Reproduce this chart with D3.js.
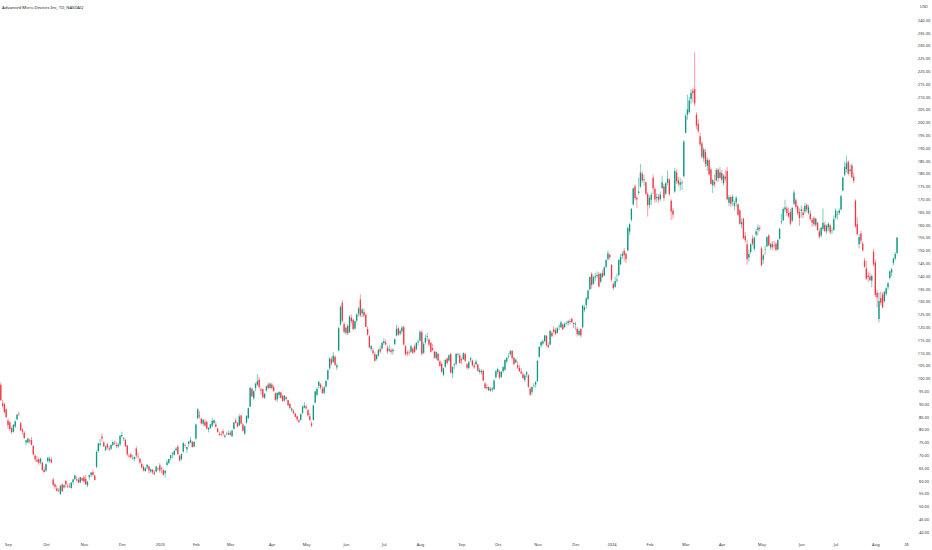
<!DOCTYPE html>
<html>
<head>
<meta charset="utf-8">
<script src="https://cdn.jsdelivr.net/npm/d3@7"></script>
<style>
  html, body { margin: 0; padding: 0; background: #fff; overflow: hidden; }
  text { font-family: "Noto Sans", "DejaVu Sans", sans-serif; }
</style>
</head>
<body>
<script>
// daily candles per month, each row [open, high, low, close]
const aug22 = [[97.5,98.4,91.2,91.5],[90.2,91.6,88.6,89.3],[90.0,90.6,86.2,86.9],[87.9,88.3,84.6,84.9]];
const sep22 = [[83.5,84.3,80.3,81.8],[82.8,83.4,79.6,80.2],[80.5,81.2,78.2,79.0],[79.2,82.1,78.9,81.9],[81.2,83.6,80.5,83.2],[84.0,86.1,83.7,85.8],[86.2,87.0,85.3,86.0],[82.5,83.0,79.5,79.8],[79.9,80.6,78.1,79.2],[78.8,79.4,76.3,76.7],[75.0,76.0,73.8,75.8],[75.0,76.8,74.6,76.5],[75.8,76.4,74.5,75.4],[75.9,77.2,73.8,74.1],[73.6,74.0,69.8,70.3],[69.8,70.4,67.6,68.4],[68.2,69.7,67.3,67.5],[68.4,69.1,66.2,67.0],[67.2,69.0,66.5,68.6],[67.1,67.4,63.8,64.3],[64.3,65.5,63.2,63.4]];
const oct22 = [[64.0,66.8,63.5,66.5],[67.6,69.3,67.2,69.0],[67.8,69.5,67.0,68.6],[68.3,69.2,66.9,67.2],[60.5,61.3,57.8,58.4],[58.6,59.0,56.7,57.6],[57.0,58.2,55.8,56.1],[56.4,57.2,55.6,56.3],[54.8,58.6,54.6,58.0],[58.6,58.9,55.7,55.9],[57.4,58.6,56.9,58.3],[60.0,60.2,57.4,58.6],[58.0,58.9,57.1,57.9],[57.8,59.1,57.2,57.6],[57.2,59.5,56.9,59.3],[59.4,60.8,58.5,60.5],[60.6,62.4,60.4,62.1],[60.5,61.8,59.9,60.2],[60.4,61.2,59.0,59.3],[59.4,61.6,59.0,61.4],[61.0,61.2,59.8,60.1]];
const nov22 = [[61.4,62.0,59.2,59.7],[60.7,62.3,58.4,58.6],[58.2,60.0,57.6,59.6],[61.4,62.5,60.2,62.2],[62.3,63.5,61.5,63.2],[63.4,64.4,61.8,62.3],[62.0,62.4,60.1,60.3],[65.5,71.8,65.0,71.3],[71.6,75.0,71.0,74.5],[74.0,76.5,73.4,74.6],[77.3,78.5,75.4,76.6],[75.0,75.5,73.2,73.4],[72.0,73.8,71.5,73.4],[74.3,74.9,72.3,73.0],[72.6,73.6,71.6,72.2],[72.5,74.2,72.0,74.0],[74.0,75.6,73.6,75.1],[74.8,75.7,74.0,74.6],[74.0,75.3,72.8,73.5],[73.4,74.8,72.6,74.2],[74.2,77.8,73.5,77.6]];
const dec22 = [[77.4,79.2,76.9,77.9],[76.4,77.1,75.5,76.7],[76.0,76.5,73.2,73.5],[73.8,74.0,69.6,70.3],[69.8,70.5,68.9,69.5],[70.3,70.9,68.7,69.2],[68.9,70.2,68.4,68.9],[68.5,69.5,67.7,69.3],[72.6,73.4,68.9,69.8],[69.7,70.9,68.4,69.6],[68.6,68.9,66.6,67.1],[66.6,67.2,64.8,65.2],[65.4,66.0,63.7,64.0],[63.8,65.3,63.5,64.9],[65.2,66.4,64.6,66.3],[65.6,65.8,62.8,64.0],[63.6,64.8,63.0,64.5],[64.2,64.6,62.5,63.3],[63.2,64.3,62.2,62.6],[63.6,65.8,63.2,65.6],[64.6,65.1,63.9,64.8]];
const jan23 = [[66.0,66.9,63.2,64.0],[64.9,65.6,63.0,64.7],[64.2,64.4,62.1,62.3],[63.0,64.1,61.2,63.9],[66.2,68.3,65.8,67.2],[67.0,68.7,66.5,68.5],[68.8,70.2,68.0,70.0],[70.6,71.2,68.8,70.9],[70.1,71.9,69.8,71.7],[72.0,73.2,71.4,72.6],[73.3,74.0,70.2,70.4],[69.8,70.2,67.5,68.0],[68.5,70.6,67.9,70.5],[71.4,75.0,71.0,74.8],[74.0,74.6,72.9,73.8],[72.3,73.4,70.9,73.2],[74.4,75.5,73.3,75.3],[75.0,77.2,74.7,76.0],[75.3,75.5,73.0,73.2],[73.4,75.4,73.0,75.2]];
const feb23 = [[76.5,82.4,76.0,82.0],[84.5,88.4,84.0,87.9],[85.5,87.2,84.3,85.2],[84.2,84.6,82.0,82.4],[82.3,84.1,81.3,83.9],[83.0,84.0,81.2,81.5],[83.0,83.6,80.0,80.4],[80.0,81.0,78.9,80.6],[80.6,82.3,80.2,82.0],[81.5,84.6,81.0,83.4],[82.6,83.9,82.0,83.7],[82.0,83.2,80.9,81.1],[80.4,80.8,78.8,79.1],[78.3,79.2,77.6,77.9],[78.2,79.3,77.4,78.1],[79.4,80.3,77.6,78.4],[77.2,78.1,76.6,77.7],[78.4,79.2,77.8,78.2],[78.0,79.6,77.9,78.6]];
const mar23 = [[78.8,79.6,77.6,78.0],[77.4,80.0,77.1,79.6],[80.3,83.0,80.0,82.8],[83.6,84.5,82.4,82.7],[82.5,83.0,80.9,81.2],[81.6,86.0,81.5,85.2],[85.5,85.8,82.0,82.3],[82.0,82.6,79.2,79.6],[78.5,81.6,77.9,81.3],[82.7,85.6,82.3,85.3],[84.5,88.6,84.2,88.3],[89.0,96.8,88.8,96.3],[96.0,96.4,92.6,93.0],[92.3,95.4,91.5,95.0],[96.2,98.3,95.0,97.9],[97.6,101.7,97.1,98.9],[99.5,100.5,96.0,96.6],[95.7,96.4,93.6,95.2],[95.8,96.0,92.2,92.6],[92.4,94.3,92.0,94.0],[95.3,97.2,94.8,96.9],[97.6,98.5,95.8,96.2],[96.3,98.2,95.9,98.0]];
const apr23 = [[97.6,98.3,95.6,96.2],[96.6,97.4,94.7,95.1],[94.2,94.5,91.2,91.6],[91.8,94.6,90.8,94.3],[93.5,95.0,92.4,94.7],[94.5,94.8,92.1,92.4],[93.2,93.6,90.9,91.1],[91.4,93.5,91.0,93.2],[92.6,93.1,91.3,92.0],[91.5,91.7,89.2,89.5],[90.0,90.4,88.0,88.4],[87.5,88.6,86.8,88.2],[87.3,88.0,86.0,86.4],[86.2,86.6,84.8,85.0],[85.2,85.6,83.2,84.0],[83.6,84.2,82.6,83.0],[83.8,86.4,83.5,86.0],[86.5,89.3,86.0,89.0],[88.6,90.8,88.2,89.4]];
const may23 = [[89.0,89.8,87.8,88.3],[87.6,88.0,85.0,85.6],[85.2,86.5,83.4,83.8],[82.4,83.2,80.9,81.6],[83.8,89.8,83.5,89.4],[90.5,95.3,90.3,94.9],[93.6,96.6,92.9,95.9],[97.0,99.2,96.0,98.6],[97.6,98.2,95.6,96.4],[96.0,96.9,93.9,94.3],[94.4,97.0,93.8,96.5],[96.8,99.4,96.4,99.0],[99.6,103.5,99.2,103.2],[104.0,108.2,103.3,107.8],[107.5,108.5,105.1,105.8],[106.5,110.3,106.0,108.9],[108.4,109.0,104.8,105.3],[104.3,105.9,103.2,105.1],[111.0,120.2,110.5,119.6],[121.0,128.5,120.6,127.9],[129.5,130.6,121.8,122.5],[121.2,122.0,117.5,118.2]];
const jun23 = [[117.8,120.3,117.0,119.8],[120.5,121.2,116.9,117.6],[118.0,124.6,117.8,124.2],[123.7,125.0,121.4,122.3],[122.9,123.4,118.7,119.3],[119.5,122.6,119.0,122.3],[122.6,125.5,121.8,124.9],[125.3,128.0,124.2,127.3],[130.8,132.8,123.9,124.6],[125.4,127.6,123.8,126.9],[125.9,127.2,123.9,124.5],[124.8,125.5,120.0,120.1],[119.3,120.3,116.8,117.1],[116.4,117.0,111.8,112.2],[111.5,113.0,110.6,112.6],[110.9,111.9,109.2,109.9],[109.5,110.4,106.6,106.9],[107.6,109.4,106.9,109.2],[109.0,111.7,108.5,111.1],[111.5,112.7,109.8,110.5],[111.6,114.4,111.3,113.9]];
const jul23 = [[113.8,115.7,113.0,114.6],[114.0,115.2,112.8,113.3],[112.0,112.8,109.6,110.5],[110.8,113.2,110.3,111.4],[111.0,112.0,109.4,110.3],[110.6,111.8,109.3,111.2],[113.4,115.6,113.0,115.3],[116.8,121.0,116.4,119.3],[119.6,120.4,116.6,117.1],[117.5,119.3,116.8,118.6],[118.4,120.5,117.2,119.9],[120.0,120.6,112.8,113.2],[112.6,113.0,108.9,109.4],[110.2,111.0,108.6,109.7],[110.3,111.2,108.9,110.2],[110.4,113.0,110.0,112.6],[111.6,112.2,109.5,110.0],[112.5,113.3,109.8,110.4],[111.4,114.2,111.0,113.8],[114.0,115.3,112.9,114.4]];
const aug23 = [[114.8,118.8,114.2,118.2],[118.0,119.0,109.0,109.6],[110.0,114.2,109.5,113.4],[114.0,117.2,113.2,115.8],[116.2,117.8,114.6,116.5],[115.2,115.6,112.4,113.2],[113.8,114.3,110.0,110.4],[111.8,113.4,110.6,111.2],[110.4,110.9,107.6,108.1],[107.9,110.6,107.3,110.3],[109.6,110.0,106.6,107.0],[106.6,107.4,104.6,104.9],[105.6,106.2,102.2,102.6],[101.4,104.2,100.8,103.9],[104.6,107.5,104.0,107.2],[107.8,108.1,105.3,106.0],[107.0,109.4,106.4,109.0],[109.6,109.8,101.8,102.3],[102.0,104.8,100.1,104.4],[105.2,106.0,103.6,105.5],[105.6,109.8,105.0,109.6],[109.2,110.0,108.2,109.4],[109.0,109.8,105.8,106.0]];
const sep23 = [[107.5,108.2,105.6,107.0],[107.5,110.2,107.2,109.8],[109.6,110.0,106.5,106.9],[105.5,106.0,103.4,104.2],[104.0,106.8,103.6,106.3],[107.3,108.3,106.4,107.9],[107.0,107.4,104.6,105.1],[105.0,106.2,103.8,104.3],[105.5,107.4,105.0,106.6],[105.4,105.9,102.6,103.0],[102.5,104.0,101.8,103.2],[102.4,103.6,101.4,102.9],[103.0,103.4,98.9,99.2],[98.0,98.6,96.0,96.2],[96.6,97.8,95.6,96.1],[95.4,96.9,95.0,96.6],[95.9,96.6,94.8,95.2],[95.6,96.6,94.6,96.1],[95.8,99.6,95.4,99.2],[100.4,103.2,100.0,102.8]];
const oct23 = [[102.5,104.2,101.6,103.6],[102.6,103.2,99.8,100.3],[100.6,102.9,100.1,102.6],[102.8,104.8,102.2,104.4],[103.4,107.5,103.0,107.2],[106.6,108.4,105.8,108.0],[108.6,109.8,107.8,108.6],[109.5,111.2,108.8,110.6],[110.8,111.0,107.4,107.9],[108.0,108.4,105.1,105.6],[106.2,107.8,105.9,107.3],[105.2,106.6,103.7,104.2],[104.1,105.2,102.5,102.8],[102.7,104.1,101.6,101.9],[101.6,102.4,99.8,100.1],[99.4,101.8,98.6,101.1],[101.6,102.9,100.4,102.4],[101.2,101.6,96.4,96.7],[96.0,96.8,93.1,93.7],[94.6,97.0,93.5,96.6],[97.2,98.2,96.3,97.4],[97.6,99.0,96.4,98.5]];
const nov23 = [[98.9,107.2,98.6,106.8],[108.5,112.6,108.0,112.3],[112.8,114.6,111.9,114.2],[113.6,115.2,112.9,114.5],[114.6,117.0,114.0,116.8],[116.6,116.9,112.5,112.9],[113.0,114.0,111.8,112.2],[113.2,118.9,113.0,118.6],[117.8,118.4,116.0,116.5],[119.2,120.3,117.6,118.2],[118.8,119.8,116.9,117.4],[117.8,120.0,117.5,119.6],[120.2,121.2,118.9,120.4],[120.0,122.5,119.7,121.9],[121.0,121.6,118.8,119.2],[120.0,121.9,119.6,121.3],[121.5,122.3,120.8,121.6],[121.6,122.8,120.6,122.3],[122.4,123.2,121.0,122.0],[123.2,123.8,121.6,122.0],[121.6,122.0,119.6,121.2]];
const dec23 = [[121.0,122.2,118.8,121.4],[119.4,120.2,116.3,117.4],[117.0,119.4,116.6,118.6],[119.2,119.8,116.0,116.8],[120.0,128.8,119.6,128.4],[126.8,128.6,125.8,127.8],[128.6,131.8,127.2,131.2],[131.0,134.6,130.4,134.3],[134.8,139.9,134.2,139.6],[140.8,141.5,135.0,136.5],[137.0,140.2,136.6,139.5],[139.4,141.2,138.0,139.9],[140.0,141.8,139.0,140.4],[140.8,141.6,135.6,135.9],[137.8,141.3,137.2,140.9],[141.2,142.4,139.2,139.6],[140.2,143.8,140.0,143.4],[143.6,146.6,143.0,146.2],[146.6,150.0,146.0,148.8],[148.2,148.9,146.4,147.4]];
const jan24 = [[144.3,144.6,137.7,138.6],[136.8,137.6,134.5,135.3],[135.8,139.8,135.4,138.0],[138.2,141.0,137.4,138.6],[140.4,146.8,139.8,146.2],[144.6,148.8,144.2,147.4],[147.8,149.6,146.6,148.6],[149.8,151.0,145.6,148.2],[148.6,149.2,145.0,146.6],[150.0,159.2,149.6,158.7],[157.4,160.6,156.0,160.2],[162.0,166.6,161.4,166.2],[168.0,174.6,167.4,174.2],[175.0,175.8,169.6,170.4],[170.6,171.4,166.6,169.9],[172.4,178.4,171.6,173.0],[175.0,183.8,174.4,180.4],[180.0,181.0,176.4,177.3],[177.4,179.6,175.2,177.8],[176.6,177.0,171.6,172.1],[172.0,172.8,163.2,167.7]];
const feb24 = [[167.8,171.4,166.4,170.5],[169.8,172.6,167.8,171.8],[178.4,179.6,172.0,174.2],[174.0,174.6,168.6,169.9],[170.4,172.4,168.8,170.9],[171.0,172.0,168.6,169.8],[170.0,173.0,169.2,171.8],[174.4,179.2,174.0,176.6],[175.0,176.0,169.2,170.5],[172.2,176.8,171.6,176.2],[176.4,181.2,175.4,178.0],[177.6,178.2,171.2,172.0],[169.4,170.0,161.8,165.2],[165.6,166.6,162.4,164.0],[173.0,182.2,172.4,181.0],[180.4,181.6,176.0,177.0],[177.4,178.8,175.0,176.1],[175.6,178.4,173.4,176.6],[176.2,177.6,173.6,176.5],[179.0,193.2,178.4,192.5]];
const mar24 = [[196.0,203.4,195.6,202.6],[203.0,210.8,201.0,205.1],[204.0,210.0,203.4,208.6],[209.2,213.0,207.2,211.6],[212.4,213.6,207.8,211.4],[213.0,227.3,206.4,207.4],[203.0,204.0,197.4,198.8],[199.4,201.2,195.8,196.6],[194.6,196.0,190.6,191.4],[191.8,192.6,185.8,186.6],[186.0,190.2,184.6,189.4],[188.4,189.6,182.6,183.8],[183.0,186.4,181.0,185.4],[185.2,185.8,179.2,179.8],[181.6,182.4,175.6,176.0],[175.4,178.0,172.4,177.4],[176.6,179.6,174.8,175.8],[177.4,182.2,176.8,181.4],[181.6,182.0,176.6,178.2],[178.4,182.6,177.8,180.5]];
const apr24 = [[180.2,181.4,176.4,177.6],[176.2,179.8,175.4,179.2],[178.8,181.2,177.0,178.0],[181.0,182.6,169.6,170.0],[168.6,171.6,167.4,170.8],[170.8,171.2,167.0,168.2],[169.0,171.8,167.4,171.0],[167.4,169.4,165.6,168.6],[168.8,171.2,166.8,170.6],[168.0,168.6,163.4,163.9],[165.6,166.2,160.0,160.4],[160.2,162.6,158.6,161.0],[162.4,162.8,154.4,154.8],[155.6,157.2,153.0,154.0],[152.4,154.2,144.4,146.6],[147.2,150.4,145.6,148.6],[149.4,152.8,148.6,152.4],[154.6,156.0,151.8,152.6],[150.6,155.4,149.6,155.0],[156.2,158.4,155.4,157.4],[158.0,160.2,155.8,159.0],[158.8,159.8,157.4,158.4]];
const may24 = [[150.8,151.6,143.6,144.3],[146.4,148.6,144.8,148.0],[150.2,151.8,148.4,150.4],[151.6,155.6,151.2,155.2],[155.8,156.4,151.6,152.0],[151.2,153.0,150.2,152.4],[152.6,153.6,150.0,151.2],[152.0,153.8,150.8,151.8],[152.6,153.2,149.6,150.2],[150.4,154.4,150.0,154.0],[154.6,158.8,154.2,158.4],[161.0,164.2,160.2,161.4],[161.8,166.8,161.4,166.2],[166.0,169.8,165.0,166.8],[166.4,167.4,163.4,164.6],[164.6,166.8,162.8,163.2],[165.0,166.2,159.8,160.4],[161.6,167.0,161.0,166.6],[168.2,173.6,167.6,172.6],[169.6,170.4,166.0,167.0],[167.2,167.8,163.6,164.6],[165.0,166.4,159.6,162.6]];
const jun24 = [[165.4,167.6,162.8,166.0],[164.8,166.8,162.6,163.8],[165.2,168.6,164.4,167.4],[167.8,168.2,165.0,166.0],[164.6,167.8,164.0,166.8],[164.4,165.6,161.6,162.2],[162.0,162.6,159.2,160.8],[162.6,163.4,159.4,160.2],[160.0,162.8,159.2,162.4],[160.8,161.2,157.6,158.0],[157.4,158.6,154.6,155.4],[155.8,159.2,155.0,158.8],[158.4,166.4,157.6,160.8],[160.0,161.2,157.0,157.6],[157.4,160.2,156.4,159.6],[159.0,161.0,157.6,160.4],[159.8,160.4,156.2,157.0],[157.6,159.0,156.4,157.8],[158.0,163.6,157.6,162.2]];
const jul24 = [[162.8,166.4,162.2,165.6],[164.0,165.4,162.0,164.2],[164.6,166.4,163.8,165.6],[166.0,171.8,165.6,171.2],[173.4,178.8,173.0,178.4],[179.6,184.6,179.0,182.6],[181.8,187.0,180.6,184.0],[184.6,185.2,179.2,180.0],[181.0,183.6,179.6,181.6],[183.2,184.0,178.0,178.6],[178.8,180.4,176.2,177.2],[169.4,170.0,158.8,159.4],[160.2,163.0,155.8,156.4],[152.4,156.4,150.8,155.2],[156.6,157.8,152.4,153.8],[152.6,153.4,149.6,150.0],[146.0,147.0,143.2,143.6],[143.0,146.0,138.4,139.0],[140.2,141.8,137.6,139.6],[139.8,141.2,137.8,138.4],[138.2,140.6,135.6,140.0],[149.4,150.6,143.8,144.5]];
const aug24 = [[145.2,146.4,131.8,132.6],[133.4,134.6,127.8,131.6],[123.2,133.6,121.8,130.2],[131.4,134.0,128.6,129.6],[132.8,133.6,127.4,127.8],[130.2,134.2,129.6,133.8],[133.0,135.6,132.2,135.2],[135.6,137.6,134.6,137.2],[139.2,142.2,138.6,141.8],[141.4,143.2,139.8,142.6],[145.0,147.2,144.2,146.8],[146.8,149.4,146.0,148.6],[149.0,155.2,148.6,155.0]];

// exchange calendar
const firstDay = "2022-08-26";
const axisEnd = "2024-08-26";
const holidays = ["2022-09-05","2022-11-24","2022-12-26","2023-01-02","2023-01-16","2023-02-20","2023-04-07","2023-05-29","2023-06-19","2023-07-04","2023-09-04","2023-11-23","2023-12-25","2024-01-01","2024-01-15","2024-02-19","2024-03-29","2024-05-27","2024-06-19","2024-07-04"];
const monthNames = ["Jan","Feb","Mar","Apr","May","Jun","Jul","Aug","Sep","Oct","Nov","Dec"];
const priceTicks = d3.range(40, 241, 5);

const title = "Advanced Micro Devices Inc, 1D, NASDAQ";
const currency = "USD";
const upColor = "#089981", downColor = "#f23645";

const width = 932, height = 550;

const ohlc = [aug22, sep22, oct22, nov22, dec22, jan23, feb23, mar23, apr23, may23, jun23,
  jul23, aug23, sep23, oct23, nov23, dec23, jan24, feb24, mar24, apr24, may24, jun24, jul24, aug24].flat();

const parse = d3.utcParse("%Y-%m-%d"), fmt = d3.utcFormat("%Y-%m-%d");
const hol = new Set(holidays);
const days = d3.utcDays(parse(firstDay), d3.utcDay.offset(parse(axisEnd), 1))
  .filter(d => d.getUTCDay() % 6 !== 0 && !hol.has(fmt(d)));

const candles = ohlc.map((v, i) => ({ i: i, date: days[i], o: v[0], h: v[1], l: v[2], c: v[3] }));
if (candles.length && !candles[candles.length - 1].date) console.log("calendar too short");

// x: one slot per trading day
const x = d3.scaleLinear().domain([0, days.length - 1]).range([0.77, 0.77 + 1.807 * (days.length - 1)]);
const y = d3.scaleLinear().domain([40, 240]).range([532, 20]);

// month ticks: first trading day of each month (the partial first month gets none)
const tickIdx = [];
days.forEach((d, i) => {
  if (i > 0 && d.getUTCMonth() !== days[i - 1].getUTCMonth()) tickIdx.push(i);
});
tickIdx.push(days.length - 1);
const tickLabel = i => {
  const d = days[i];
  if (i === days.length - 1) return d3.utcFormat("%-d")(d);
  return d.getUTCMonth() === 0 ? String(d.getUTCFullYear()) : monthNames[d.getUTCMonth()];
};

const svg = d3.select("body").append("svg").attr("width", width).attr("height", height);

svg.append("text").attr("x", 2).attr("y", 8.5)
  .attr("font-size", 4.2).attr("fill", "#131722").text(title);

// candles
const g = svg.append("g");
g.selectAll("line.wick").data(candles).join("line")
  .attr("class", "wick")
  .attr("x1", d => x(d.i)).attr("x2", d => x(d.i))
  .attr("y1", d => y(d.h)).attr("y2", d => y(d.l))
  .attr("stroke", d => d.c >= d.o ? upColor : downColor)
  .attr("stroke-width", 0.5);

g.selectAll("rect.body").data(candles).join("rect")
  .attr("class", "body")
  .attr("x", d => x(d.i) - 0.65)
  .attr("width", 1.3)
  .attr("y", d => y(Math.max(d.o, d.c)))
  .attr("height", d => Math.max(0.5, Math.abs(y(d.o) - y(d.c))))
  .attr("fill", d => d.c >= d.o ? upColor : downColor);

// price axis
const yAxis = svg.append("g").attr("transform", "translate(924,0)")
  .call(d3.axisRight(y).tickValues(priceTicks).tickFormat(d3.format(".2f")).tickSize(0).tickPadding(0));
yAxis.select(".domain").remove();
yAxis.selectAll("text").attr("text-anchor", "middle").attr("font-size", 4).attr("fill", "#333");

svg.append("text").attr("x", 924).attr("y", 7.5).attr("text-anchor", "middle")
  .attr("font-size", 4).attr("fill", "#333").text(currency);

// time axis
const xAxis = svg.append("g").attr("transform", "translate(0,540)")
  .call(d3.axisBottom(x).tickValues(tickIdx).tickFormat(tickLabel).tickSize(0).tickPadding(3));
xAxis.select(".domain").remove();
xAxis.selectAll("text").attr("font-size", 4).attr("fill", "#333");
</script>
</body>
</html>
